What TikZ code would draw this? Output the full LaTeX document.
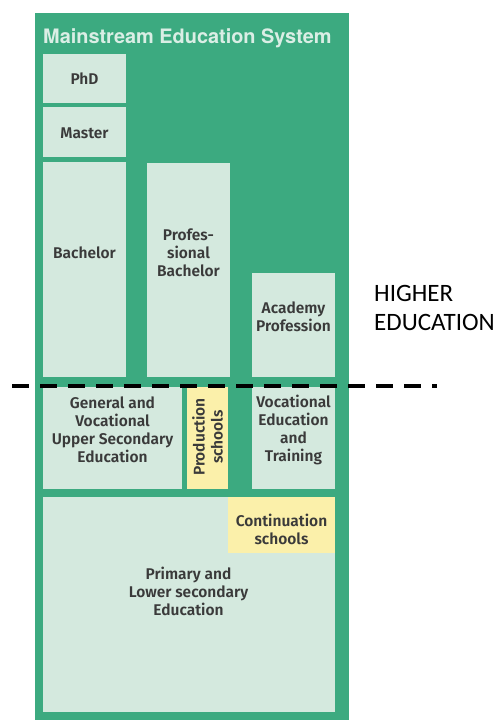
\documentclass[tikz,border=0pt]{standalone}
\usepackage{fontspec}
\setmainfont{Fira Sans SemiBold}
\newfontfamily\titlefont{TeX Gyre Heros}
\newfontfamily\sidefont{Carlito}
\definecolor{frame}{RGB}{60,170,128}
\definecolor{pale}{RGB}{212,233,222}
\definecolor{butter}{RGB}{251,240,170}
\definecolor{ink}{RGB}{58,58,58}
\definecolor{titleink}{RGB}{218,238,229}

\begin{document}
\begin{tikzpicture}[x=1pt,y=-1pt,box/.style={fill=pale},hl/.style={fill=butter},
  lab/.style={text=ink,font=\fontsize{15.5}{18}\selectfont,align=center,inner sep=0pt}]
  \useasboundingbox (0,0) rectangle (498,720);
  \fill[frame] (35,13) rectangle (349,720);
  \node[anchor=base west,text=titleink,inner sep=0pt,
    font=\titlefont\bfseries\fontsize{19.9}{22}\selectfont] (title) at (43,43)
    {Mainstream Education System};

  % higher education
  \fill[box] (43,54) rectangle (126,103);
  \fill[box] (43,107) rectangle (126,157);
  \fill[box] (43,162) rectangle (126,377);
  \fill[box] (147,163) rectangle (230,377);
  \fill[box] (252,273) rectangle (335,377);

  % upper secondary
  \fill[box] (43,387) rectangle (182,489);
  \fill[hl] (187,387) rectangle (228,489);
  \fill[box] (252,387) rectangle (335,489);

  % primary and lower secondary
  \fill[box] (43,497) rectangle (335,712);
  \fill[hl] (228,497) rectangle (335,553);

  \node[lab] (phd) at (84.5,79) {PhD};
  \node[lab] (master) at (84.5,133) {Master};
  \node[lab] (bachelor) at (84.5,253) {Bachelor};
  \node[lab] (profbach) at (188.5,253) {Profes-\\sional\\Bachelor};
  \node[lab] (academy) at (293.5,317) {Academy\\Profession};
  \node[lab] (general) at (112.5,430) {General and\\Vocational\\Upper Secondary\\Education};
  \node[lab,rotate=90] (production) at (207.5,437) {Production\\schools};
  \node[lab] (vocational) at (293.5,430) {Vocational\\Education\\and\\Training};
  \node[lab] (continuation) at (281.5,529.5) {Continuation\\schools};
  \node[lab] (primary) at (188.5,591) {Primary and\\Lower secondary\\Education};

  \node[anchor=north west,align=left,inner sep=0pt,
    font=\sidefont\fontsize{25}{29}\selectfont] (higher) at (374,285)
    {HIGHER\\EDUCATION};

  \draw[line width=4pt,dash pattern=on 17pt off 11pt] (12,386) -- (437,386);
\end{tikzpicture}
\end{document}
